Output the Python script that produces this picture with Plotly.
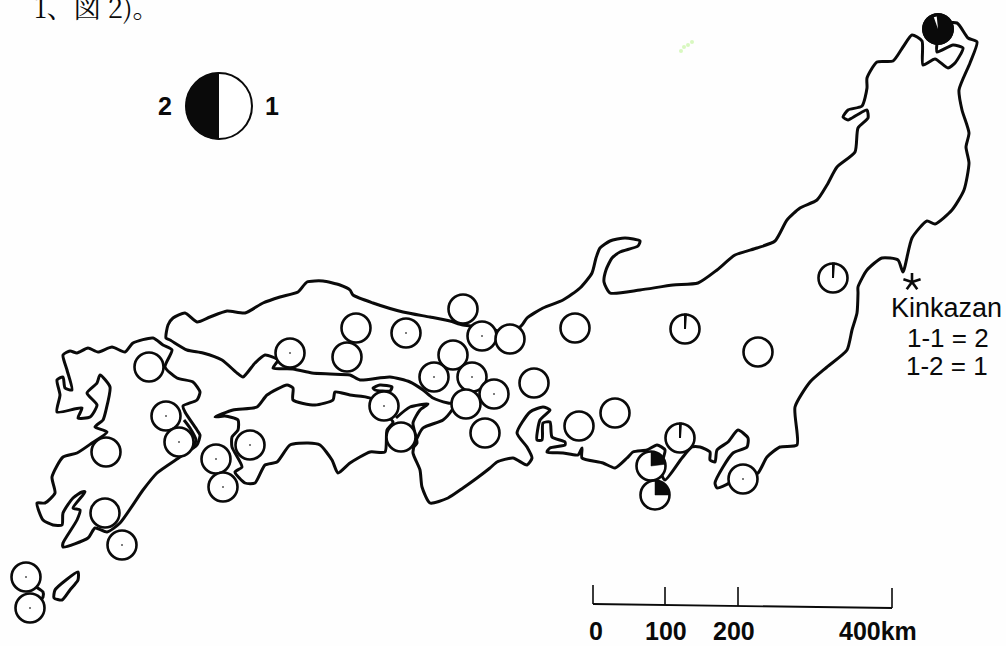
import numpy as np
import plotly.graph_objects as go

# Coastlines, in map units (x east, y south)
honshu_x = [166,168,173,185,197,210,227,245,263,280,298,307,323,340,350,353,373,403,430,450,463,490,510,522,527,543,563,580,592,596,600,610,625,640,638,620,612,606,604,610,640,673,698,717,735,757,775,787,800,817,827,837,855,858,868,867,857,848,843,848,862,867,867,877,893,903,912,922,923,935,948,955,963,953,937,937,940,957,968,977,970,959,962,969,966,969,964,952,935,927,912,903,898,882,867,858,858,857,852,847,827,810,795,797,780,767,758,743,730,717,715,723,733,747,748,738,728,717,715,710,710,700,692,682,665,660,665,657,647,633,627,615,603,582,582,578,563,547,550,565,565,552,550,543,542,537,540,550,543,530,517,527,532,527,513,497,490,477,463,448,430,422,420,413,415,423,443,452,455,448,433,423,410,390,360,350,330,312,293,273,278,265,255,243,237,222,203,187,170,166]
honshu_y = [338,325,318,313,322,317,311,313,303,297,292,282,281,285,290,295,303,312,317,321,325,328,335,325,318,308,300,288,273,258,248,241,238,241,246,252,258,270,282,293,290,285,283,270,255,248,241,220,208,200,185,167,152,128,118,110,115,120,117,110,106,88,78,62,61,47,35,41,65,59,68,63,48,45,52,43,25,23,38,42,63,90,110,133,147,163,190,210,224,221,238,272,260,258,270,287,293,313,330,350,367,382,407,445,447,457,473,479,483,488,483,467,453,447,438,430,442,450,462,460,452,447,447,458,480,470,450,445,450,452,458,468,463,458,448,455,453,452,448,445,442,437,422,423,440,440,420,410,407,412,433,447,458,465,458,462,468,478,488,498,503,487,470,453,443,428,420,410,404,403,398,390,382,377,380,375,374,373,369,368,360,355,363,377,373,360,353,350,340,338]

shikoku_x = [215,233,257,267,287,293,293,315,333,335,350,370,380,393,387,385,370,350,338,332,320,308,290,277,265,255,245,235,242,232,232,238,238,225,215]
shikoku_y = [417,410,407,395,385,388,400,405,400,392,395,398,410,422,430,452,452,463,473,460,445,443,445,462,465,483,483,472,467,447,437,430,420,416,417]

kyushu_x = [63,70,77,88,98,112,125,133,153,163,172,165,177,193,200,197,183,185,197,200,197,180,157,143,120,107,95,88,63,63,77,80,73,85,82,73,63,62,53,43,37,45,55,52,63,77,92,107,95,103,106,110,100,97,87,97,90,78,82,57,60,57,63,65,72,67,63]
kyushu_y = [355,351,353,348,352,347,352,343,338,345,350,367,378,382,392,400,406,412,430,435,445,457,473,490,523,532,528,538,547,543,520,510,508,492,492,498,513,525,525,520,503,503,493,477,457,453,443,432,427,420,410,387,375,383,393,405,417,418,408,412,395,380,377,388,390,370,355]

shodoshima_x = [373,380,392,390,375,373]
shodoshima_y = [388,385,387,391,390,388]
awaji_x = [396,410,428,420,413,417,412]
awaji_y = [418,407,404,410,423,443,448]
tanegashima_x = [78,66,55,54,62,70,78,78]
tanegashima_y = [572,580,590,598,600,590,580,572]
yakushima_x = [36,43,43,41]
yakushima_y = [587,592,597,600]
kyushu_inner_x = [184,190,196,193]
kyushu_inner_y = [420,428,440,447]

# Sampling sites: position and share of type 2
site_x = [149,166,179,106,216,250,223,290,105,122,26,30,463,482,510,356,406,347,453,434,472,494,466,384,401,485,534,575,579,615,651,655,833,685,758,680,743,938]
site_y = [367,416,442,452,459,445,487,353,513,545,577,608,309,336,339,328,333,357,355,377,377,394,404,406,437,433,383,328,426,413,466,495,278,329,352,438,479,29]
site_type2 = [0,0,0,0,0,0,0,0,0,0,0,0,0,0,0,0,0,0,0,0,0,0,0,0,0,0,0,0,0,0,0.23,0.25,0.01,0.01,0,0.01,0,0.97]
site_dotted = [0,1,1,0,1,1,1,1,0,1,1,1,0,1,0,0,1,0,0,1,1,1,0,1,0,0,0,0,0,0,0,0,0,0,0,0,1,0]

legend_x, legend_y, legend_share = 219, 106, 0.5
star_x, star_y = 912, 282

scale_km = [0, 100, 200, 400]
scale_x = [593, 665, 738, 892]
scale_base_y = [604, 605, 606, 608]
scale_top_y = [585, 587, 587, 588]
scale_labels = ["0", "100", "200", "400km"]
scale_label_x = [596, 666, 734, 878]

speck_x = [681, 684, 688, 692]
speck_y = [51, 47, 45, 42]

INK = "#0a0a0a"
R_SITE = 14.5
R_LEGEND = 33


def wedge(cx, cy, r, share):
    """Clockwise wedge from 12 o'clock."""
    a = np.linspace(0, 2 * np.pi * share, 60)
    xs = cx + r * np.sin(a)
    ys = cy - r * np.cos(a)
    return np.r_[cx, xs, cx], np.r_[cy, ys, cy]


fig = go.Figure()


def coast(x, y, w=3, smooth=0.6):
    fig.add_trace(go.Scatter(x=x, y=y, mode="lines", hoverinfo="skip",
                             line=dict(color=INK, width=w, shape="spline", smoothing=smooth)))


for cx, cy in [(honshu_x, honshu_y), (shikoku_x, shikoku_y), (kyushu_x, kyushu_y),
               (shodoshima_x, shodoshima_y), (awaji_x, awaji_y),
               (tanegashima_x, tanegashima_y), (yakushima_x, yakushima_y),
               (kyushu_inner_x, kyushu_inner_y)]:
    coast(cx, cy)

# scan speck
fig.add_trace(go.Scatter(x=speck_x, y=speck_y, mode="markers", hoverinfo="skip",
                         marker=dict(color="#d8f8c0", size=4, line=dict(width=0))))

# site circles
fig.add_trace(go.Scatter(x=site_x, y=site_y, mode="markers", hoverinfo="skip",
                         marker=dict(symbol="circle", size=2 * R_SITE, color="white",
                                     line=dict(color=INK, width=2.6))))
# wedges
for x, y, s in zip(site_x, site_y, site_type2):
    if s > 0.5:
        # nearly full circle, white sliver just left of 12 o'clock
        fig.add_trace(go.Scatter(x=[x], y=[y], mode="markers", hoverinfo="skip",
                                 marker=dict(size=2 * R_SITE + 3, color=INK, line=dict(width=0))))
        a = np.array([-0.34, -0.10])
        fig.add_trace(go.Scatter(x=np.r_[x, x + (R_SITE - 2) * np.sin(a), x],
                                 y=np.r_[y, y - (R_SITE - 2) * np.cos(a), y],
                                 mode="lines", fill="toself", fillcolor="white", hoverinfo="skip",
                                 line=dict(color="white", width=0)))
    elif s > 0.05:
        wx, wy = wedge(x, y, R_SITE, s)
        fig.add_trace(go.Scatter(x=wx, y=wy, mode="lines", fill="toself", fillcolor=INK,
                                 hoverinfo="skip", line=dict(color=INK, width=0.5)))
    elif s > 0:
        wx, wy = wedge(x, y, R_SITE, s)
        fig.add_trace(go.Scatter(x=wx, y=wy, mode="lines", hoverinfo="skip",
                                 line=dict(color=INK, width=2)))

# faint centre dots
dot_x = [x for x, d in zip(site_x, site_dotted) if d]
dot_y = [y for y, d in zip(site_y, site_dotted) if d]
fig.add_trace(go.Scatter(x=dot_x, y=dot_y, mode="markers", hoverinfo="skip",
                         marker=dict(size=2, color="#555555", line=dict(width=0))))

# legend pie
fig.add_trace(go.Scatter(x=[legend_x], y=[legend_y], mode="markers", hoverinfo="skip",
                         marker=dict(size=2 * R_LEGEND, color="white", line=dict(color=INK, width=2))))
a = np.linspace(np.pi, 2 * np.pi, 80)
fig.add_trace(go.Scatter(x=legend_x + R_LEGEND * np.sin(a), y=legend_y - R_LEGEND * np.cos(a),
                         mode="lines", fill="toself", fillcolor=INK, hoverinfo="skip",
                         line=dict(color=INK, width=1)))

# Kinkazan star, five arms
for k in range(5):
    t = 2 * np.pi * k / 5
    fig.add_trace(go.Scatter(x=[star_x, star_x + 9 * np.sin(t)], y=[star_y, star_y - 9 * np.cos(t)],
                             mode="lines", hoverinfo="skip", line=dict(color=INK, width=2.6)))

# scale bar
fig.add_trace(go.Scatter(x=scale_x, y=scale_base_y, mode="lines", hoverinfo="skip",
                         line=dict(color=INK, width=1.8)))
for x, y0, y1 in zip(scale_x, scale_base_y, scale_top_y):
    fig.add_trace(go.Scatter(x=[x, x], y=[y0, y1], mode="lines", hoverinfo="skip",
                             line=dict(color=INK, width=1.6)))

anns = []


def label(x, y, t, size=25, bold=False, family="Liberation Sans", anchor="center"):
    anns.append(dict(x=x, y=y, xref="x", yref="y", text=f"<b>{t}</b>" if bold else t, showarrow=False,
                     xanchor=anchor, yanchor="middle",
                     font=dict(family=family, size=size, color=INK)))


for x, t in zip(scale_label_x, scale_labels):
    label(x, 631, t, size=25, bold=True)
label(165, 106, "2", size=25, bold=True)
label(272, 106, "1", size=25, bold=True)
label(946, 308, "Kinkazan", size=27)
label(948, 338, "1-1 = 2", size=26)
label(947, 366, "1-2 = 1", size=26)
label(97, 6, "1、図 2)。", size=27, family="Noto Serif CJK JP, Noto Sans CJK JP, DejaVu Serif")

fig.update_layout(
    width=1006, height=646, margin=dict(l=0, r=0, t=0, b=0), showlegend=False,
    paper_bgcolor="#fefefe", plot_bgcolor="#fefefe", annotations=anns,
    xaxis=dict(range=[0, 1006], visible=False, fixedrange=True),
    yaxis=dict(range=[646, 0], visible=False, fixedrange=True),
)
fig.write_html("out.html", post_script="document.body.style.margin='0';", config={"displayModeBar": False})
